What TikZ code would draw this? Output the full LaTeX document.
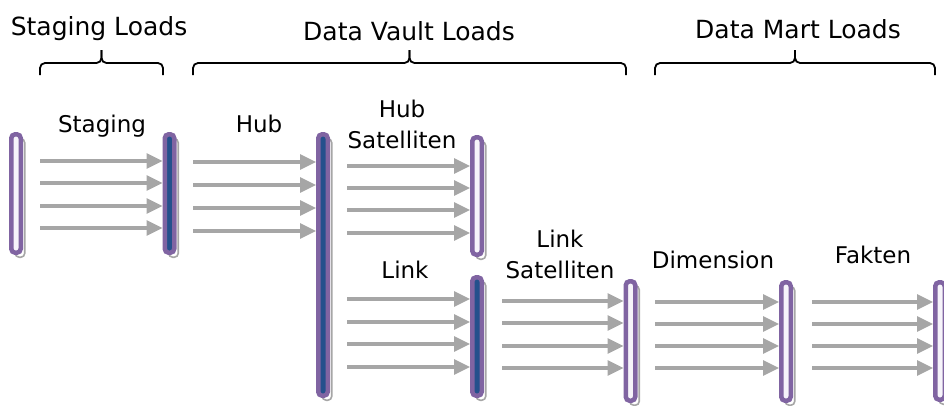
\documentclass[tikz,border=0pt]{standalone}
\usepackage{fontspec}
\setmainfont{DejaVu Sans}
\usepackage{tikz}
\usetikzlibrary{arrows.meta,shadows,calc}

\definecolor{barpurple}{HTML}{8064A2}
\definecolor{barblue}{HTML}{24508C}
\definecolor{barwhite}{HTML}{F6F4FA}
\definecolor{flowgray}{HTML}{A6A6A6}

\begin{document}
\begin{tikzpicture}[x=1pt,y=-1pt,
		bar/.style={draw=barpurple, line width=4.5pt, rounded corners=4pt, fill=barwhite,
			minimum width=9.5pt, inner sep=0pt,
			general shadow={shadow xshift=4pt, shadow yshift=-4.5pt, draw=flowgray, fill=white, line width=1.6pt}},
		loaded/.style={bar, fill=barblue},
		flow/.style={draw=flowgray, line width=3.2pt, -{Triangle[length=16pt,width=15pt]}},
		layer/.style={font=\fontsize{25}{30}\selectfont, anchor=base},
		step label/.style={font=\fontsize{23}{31}\selectfont, align=center, anchor=base},
		loadbrace/.style={draw, line width=1.8pt, rounded corners=5pt}]
		\useasboundingbox (0,0) rectangle (944,405);
		
		% Set the tables
		\node[bar, minimum height=118.5pt] (src) at (16,193.5) {};
		\node[loaded, minimum height=118.5pt] (stage) at (169.5,193.5) {};
		\node[loaded, minimum height=261.5pt] (hub) at (323,265) {};
		\node[bar, minimum height=117.5pt] (hubsat) at (477,196) {};
		\node[loaded, minimum height=118.5pt] (link) at (477,336.5) {};
		\node[bar, minimum height=119.5pt] (linksat) at (630.5,341) {};
		\node[bar, minimum height=118.5pt] (dim) at (786,341.5) {};
		\node[bar, minimum height=117.5pt] (fact) at (940,341) {};
		
		% Connect the loads with arrows
		\foreach \x/\to/\ys in {40/stage/{161,183,206,228},
				193/hub/{162,185,208,231},
				347/hubsat/{166,188,210,233},
				347/link/{299,322,344,367},
				502/linksat/{301,323,346,368},
				655/dim/{302,324,346,368},
				812/fact/{302,324,346,368}}
		\foreach \y [count=\i] in \ys {
			\coordinate (\to-in\i) at (\x,\y);
			\draw[flow] (\to-in\i) -- (\to-in\i -| \to.west);
		}
		
		% Set the step labels
		\node[step label] (l-stage) at (102,132) {Staging};
		\node[step label] (l-hub) at (259,132) {Hub};
		\node[step label] (l-hubsat) at (402,148) {Hub\\Satelliten};
		\node[step label] (l-link) at (405,278) {Link};
		\node[step label] (l-linksat) at (560,278) {Link\\Satelliten};
		\node[step label] (l-dim) at (713,268) {Dimension};
		\node[step label] (l-fact) at (873,263) {Fakten};
		
		% Group the loads with braces
		\foreach \a/\b [count=\k] in {40/163, 193/626, 655/935} {
			\coordinate (br\k-l) at (\a,75);
			\coordinate (br\k-r) at (\b,75);
			\coordinate (br\k-m) at ($(br\k-l)!.5!(br\k-r)+(0,-12)$);
			\draw[loadbrace] (br\k-l) |- (br\k-m) -- ++(0,-13);
			\draw[loadbrace] (br\k-r) |- (br\k-m) -- ++(0,-13);
		}
		
		\node[layer] (t-stage) at (99,35) {Staging Loads};
		\node[layer] (t-vault) at (409,40) {Data Vault Loads};
		\node[layer] (t-mart) at (798,38) {Data Mart Loads};
		
	\end{tikzpicture}
\end{document}
